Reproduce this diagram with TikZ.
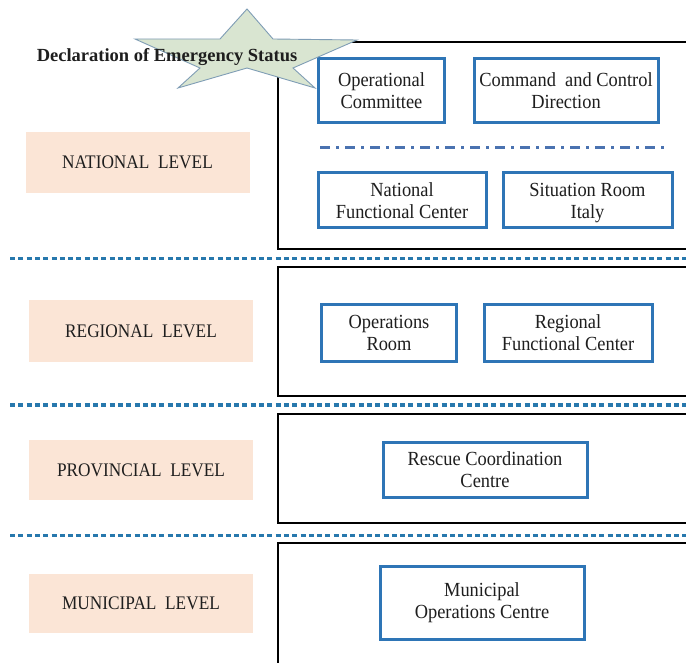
\documentclass[tikz,border=0pt]{standalone}
\usepackage{fontspec}
\setmainfont{Liberation Serif}[FakeStretch=0.9]
\newfontfamily\unitfont{Liberation Serif}[FakeStretch=0.92]
\newfontfamily\declfont{Liberation Serif}
\definecolor{peach}{HTML}{FBE5D6}
\definecolor{boxblue}{HTML}{2E75B6}
\definecolor{dotblue}{HTML}{2778AD}
\definecolor{dashblue}{HTML}{4A72B0}
\definecolor{starfill}{HTML}{D9E5D1}
\definecolor{starline}{HTML}{7F9DB5}
\definecolor{ink}{HTML}{1E1E1E}
\tikzset{
  unit/.style={draw=boxblue, line width=3pt, fill=white, text=ink, align=center,
    font=\unitfont\fontsize{20}{22}\selectfont, inner sep=0pt},
  levelbox/.style={fill=peach, text=ink, minimum width=224pt, inner sep=0pt,
    font=\fontsize{19.2}{22}\selectfont},
  tierframe/.style={draw=black, line width=2.6pt},
  levelsep/.style={dotblue, line width=3.6pt, dash pattern=on 5pt off 3.3pt},
  innersep/.style={dashblue, line width=3pt, dash pattern=on 10pt off 6pt on 3pt off 6pt}
}
\begin{document}
\begin{tikzpicture}[x=1pt,y=-1pt]
\useasboundingbox (0,0) rectangle (686,663);

% tier frames, open to the right
\draw[tierframe] (700,42) -- (278,42) -- (278,249) -- (700,249);
\draw[tierframe] (700,267) -- (278,267) -- (278,396) -- (700,396);
\draw[tierframe] (700,414) -- (278,414) -- (278,523) -- (700,523);
\draw[tierframe] (700,543) -- (278,543) -- (278,680);

% dotted separators between the levels
\coordinate (s1a) at (10,258.5); \coordinate (s1b) at (686,258.5);
\coordinate (s2a) at (10,405);   \coordinate (s2b) at (686,405);
\coordinate (s3a) at (10,535.5); \coordinate (s3b) at (686,535.5);
\draw[levelsep] (s1a) -- (s1b);
\draw[levelsep] (s2a) -- (s2b);
\draw[levelsep] (s3a) -- (s3b);

% level labels
\node[levelbox, minimum height=61pt] (nat) at (137.5,162.5) {NATIONAL\ \ LEVEL};
\node[levelbox, minimum height=62pt] (reg) at (141,331) {REGIONAL\ \ LEVEL};
\node[levelbox, minimum height=60pt] (prv) at (141,470) {PROVINCIAL\ \ LEVEL};
\node[levelbox, minimum height=59pt] (mun) at (141,603.5) {MUNICIPAL\ \ LEVEL};

% national units
\node[unit, minimum width=126pt, minimum height=64pt] (opc) at (381.5,91) {Operational\\Committee};
\node[unit, minimum width=184pt, minimum height=64pt] (ccd) at (566,91) {Command\ \ and Control\\Direction};
\coordinate (da) at (320,148); \coordinate (db) at (664,148);
\draw[innersep] (da) -- (db);
\node[unit, minimum width=168pt, minimum height=55pt] (nfc) at (402,200.5) {National\\Functional Center};
\node[unit, minimum width=169pt, minimum height=55pt] (sri) at (587.5,200.5) {Situation Room\\\smash{Italy}};

% regional units
\node[unit, minimum width=135pt, minimum height=56pt] (opr) at (389,333) {Operations\\Room};
\node[unit, minimum width=168pt, minimum height=56pt] (rfc) at (568,333) {Regional\\Functional Center};

% provincial unit
\node[unit, minimum width=204pt, minimum height=55pt] (rcc) at (485,469.5) {Rescue Coordination\\Centre};

% municipal unit
\node[unit, minimum width=204pt, minimum height=73pt] (moc) at (482,602.5) {Municipal\\Operations Centre};

% emergency star
\draw[fill=starfill, draw=starline, line width=0.9pt]
  (247,9) -- (273,39) -- (357,40) -- (293,68) -- (315,88) -- (247,68)
  -- (178,88) -- (200,68) -- (135,39) -- (220,39) -- cycle;
\node[font=\declfont\fontsize{18.5}{22}\selectfont\bfseries, text=ink, inner sep=0pt]
  (decl) at (167,57.5) {Declaration of Emergency Status};
\end{tikzpicture}
\end{document}
